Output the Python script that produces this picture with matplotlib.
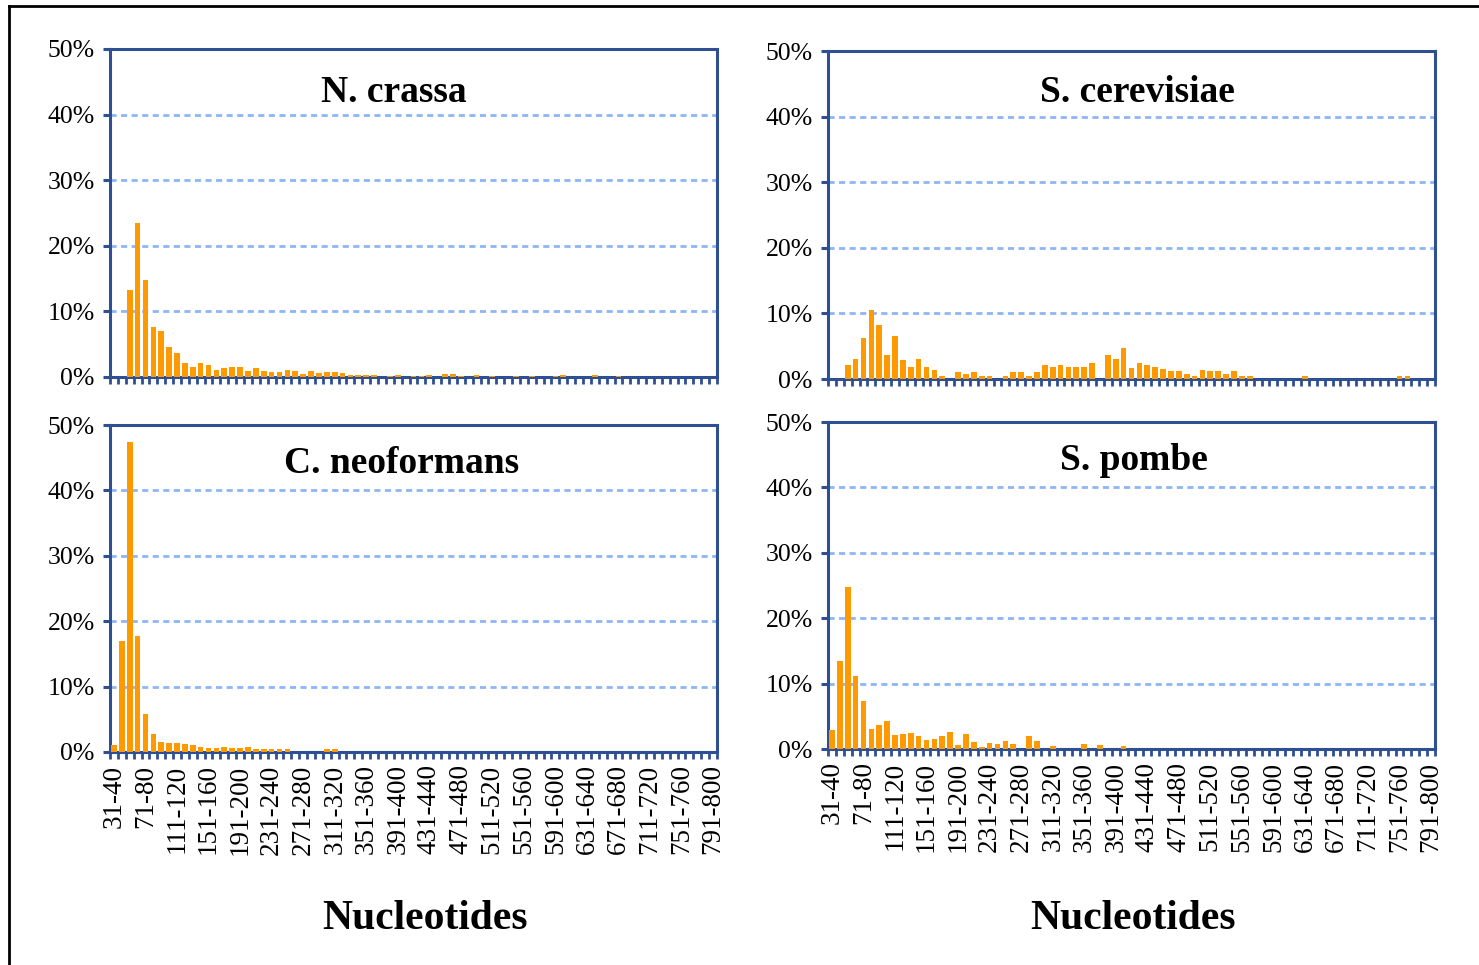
import numpy as np
import matplotlib
matplotlib.use("Agg")
import matplotlib.pyplot as plt
from matplotlib.lines import Line2D
from matplotlib.ticker import PercentFormatter

plt.rcParams['font.family'] = ['Liberation Serif', 'DejaVu Serif']

# size classes 31-40 ... 791-800
categories = [f"{31 + 10 * i}-{40 + 10 * i}" for i in range(77)]

# percent of introns per size class
n_crassa = [0, 0, 13.3, 23.4, 14.8, 7.6, 7.0, 4.5, 3.6, 2.2,
            1.6, 2.1, 1.9, 1.0, 1.3, 1.6, 1.5, 0.9, 1.3, 0.9,
            0.7, 0.7, 1.0, 0.9, 0.4, 0.9, 0.6, 0.7, 0.7, 0.6,
            0.25, 0.25, 0.25, 0.25, 0, 0.2, 0.25, 0, 0.2, 0.2,
            0.25, 0, 0.4, 0.4, 0.2, 0, 0.25, 0, 0.2, 0,
            0, 0.2, 0, 0.2, 0, 0, 0.2, 0.25, 0, 0,
            0, 0.25, 0, 0, 0.2, 0, 0, 0, 0, 0,
            0, 0, 0, 0, 0, 0, 0]

s_cerevisiae = [0, 0, 2.2, 3.0, 6.3, 10.5, 8.2, 3.6, 6.6, 2.9,
                1.8, 3.0, 1.8, 1.3, 0.5, 0, 1.0, 0.8, 1.0, 0.5,
                0.5, 0, 0.5, 1.0, 1.0, 0.5, 1.0, 2.2, 1.8, 2.2,
                1.8, 1.8, 1.8, 2.4, 0, 3.6, 3.0, 4.8, 1.7, 2.5,
                2.1, 1.9, 1.6, 1.15, 1.15, 0.8, 0.4, 1.3, 1.15, 1.15,
                0.8, 1.15, 0.4, 0.4, 0, 0, 0, 0, 0, 0,
                0.4, 0, 0, 0, 0, 0, 0, 0, 0, 0,
                0, 0, 0.5, 0.4, 0, 0, 0]

c_neoformans = [1.0, 16.9, 47.4, 17.7, 5.8, 2.7, 1.6, 1.3, 1.3, 1.2,
                1.0, 0.7, 0.6, 0.6, 0.7, 0.6, 0.6, 0.7, 0.4, 0.4,
                0.4, 0.4, 0.4, 0, 0, 0, 0, 0.4, 0.4, 0,
                0, 0, 0, 0, 0, 0, 0, 0, 0, 0,
                0, 0, 0, 0, 0, 0, 0, 0, 0, 0,
                0, 0, 0, 0, 0, 0, 0, 0, 0, 0,
                0, 0, 0, 0, 0, 0, 0, 0, 0, 0,
                0, 0, 0, 0, 0, 0, 0]

s_pombe = [2.9, 13.4, 24.7, 11.2, 7.4, 3.1, 3.7, 4.3, 2.1, 2.3,
           2.5, 2.0, 1.4, 1.5, 2.0, 2.6, 0.6, 2.3, 1.1, 0.3,
           0.9, 0.8, 1.2, 0.8, 0, 2.0, 1.2, 0, 0.5, 0,
           0, 0, 0.8, 0, 0.6, 0, 0, 0.5, 0, 0,
           0, 0, 0, 0, 0, 0, 0, 0, 0, 0,
           0, 0, 0, 0, 0, 0, 0, 0, 0, 0,
           0, 0, 0, 0, 0, 0, 0, 0, 0, 0,
           0, 0, 0, 0, 0, 0, 0]

BLUE = '#2F4F93'
GRID = '#8DB6F7'
ORANGE = '#FF9900'

fig = plt.figure(figsize=(14.79, 9.65), dpi=100)
W, H = 1479, 965

# (name, data, left px, top px, bottom px, title x frac, title baseline frac, show labels)
panels = [
    ('N. crassa', n_crassa, 110, 49, 377, 0.468, 0.838, False),
    ('S. cerevisiae', s_cerevisiae, 828, 51, 379, 0.509, 0.845, False),
    ('C. neoformans', c_neoformans, 110, 425, 752, 0.481, 0.852, True),
    ('S. pombe', s_pombe, 828, 422, 749, 0.504, 0.853, True),
]

x = np.arange(len(categories))
for name, vals, left, top, bottom, tx, ty, show in panels:
    ax = fig.add_axes([left / W, 1 - bottom / H, 607 / W, (bottom - top) / H])
    ax.bar(x, vals, width=0.72, color=ORANGE, zorder=3)
    ax.set_xlim(-0.5, len(categories) - 0.5)
    ax.set_ylim(0, 50)
    ax.set_yticks([0, 10, 20, 30, 40, 50])
    ax.yaxis.set_major_formatter(PercentFormatter(decimals=0))
    ax.set_axisbelow(True)
    ax.yaxis.grid(True, color=GRID, linewidth=2.0, dashes=(2.2, 1.6))
    for sp in ax.spines.values():
        sp.set_color(BLUE)
        sp.set_linewidth(2.2)
    ax.set_xticks(x[::4])
    ax.set_xticklabels(categories[::4], rotation=90, fontsize=19.5)
    ax.set_xticks(np.arange(-0.5, len(categories), 1), minor=True)
    ax.tick_params(axis='x', which='major', length=0, pad=9, labelbottom=show)
    ax.tick_params(axis='x', which='minor', length=5, width=2, color=BLUE, direction='out')
    ax.tick_params(axis='y', which='major', length=5, width=2.2, color=BLUE, direction='out',
                   labelsize=18.5, pad=6)
    ax.text(tx, ty, name, transform=ax.transAxes, ha='center', va='baseline',
            fontsize=27, fontweight='bold')

fig.text(425 / W, 1 - 929 / H, 'Nucleotides', ha='center', va='baseline',
         fontsize=30, fontweight='bold')
fig.text(1133 / W, 1 - 929 / H, 'Nucleotides', ha='center', va='baseline',
         fontsize=30, fontweight='bold')

# outer frame (left and top edges visible in the original)
fig.add_artist(Line2D([8.5 / W, 8.5 / W], [0, 1 - 6 / H], transform=fig.transFigure,
                      color='black', linewidth=2))
fig.add_artist(Line2D([8.5 / W, 1], [1 - 6 / H, 1 - 6 / H], transform=fig.transFigure,
                      color='black', linewidth=2))

fig.savefig('out.png', dpi=100)
